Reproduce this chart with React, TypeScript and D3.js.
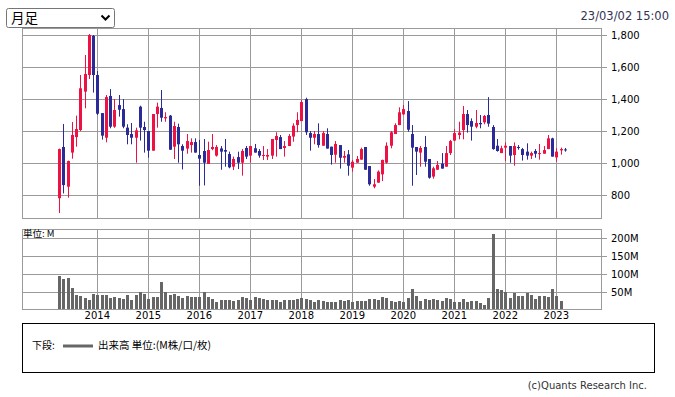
import * as d3 from 'd3'

// 月足 Apr 2013 .. Mar 2023
const START_YEAR = 2013
const START_MONTH = 3 // April, 0-based

const opens = [
  780, 1100, 852, 1065, 1162, 1206, 1446, 1550, 1794, 1550, 1312, 1158, 1419, 1227, 1362, 1337, 1221, 1181, 1158, 1352,
  1225, 1200, 1077, 1306, 1344, 1279, 1296, 1102, 1225, 1106, 1090, 1112, 1131, 1050, 1075, 994, 1087, 1046, 1091, 1081,
  1056, 977, 1037, 1002, 1094, 1046, 1092, 1075, 1046, 1040, 1046, 1144, 1162, 1094, 1106, 1165, 1237, 1262, 1400, 1187,
  1158, 1181, 1108, 1181, 1102, 1052, 1112, 1033, 1054, 971, 1002, 1021, 1100, 981, 852, 877, 929, 1002, 1108, 1181,
  1237, 1304, 1325, 1181, 1100, 1065, 1100, 1025, 915, 958, 996, 977, 1062, 1140, 1175, 1206, 1306, 1262, 1227, 1250,
  1254, 1300, 1225, 1108, 1062, 1096, 1106, 1050, 1100, 1087, 1071, 1046, 1075, 1058, 1058, 1087, 1154, 1035, 1079, 1085,
]
const highs = [
  1090, 1244, 1015, 1256, 1296, 1550, 1675, 1806, 1800, 1575, 1312, 1425, 1462, 1400, 1425, 1400, 1242, 1250, 1221, 1358,
  1258, 1200, 1306, 1377, 1456, 1317, 1300, 1258, 1246, 1117, 1181, 1154, 1154, 1144, 1150, 1133, 1181, 1112, 1106, 1150,
  1071, 1040, 1071, 1087, 1106, 1106, 1119, 1087, 1106, 1087, 1150, 1192, 1175, 1137, 1181, 1248, 1317, 1394, 1408, 1200,
  1200, 1248, 1200, 1217, 1102, 1137, 1112, 1075, 1081, 1019, 1044, 1096, 1100, 981, 900, 954, 1021, 1129, 1200, 1248,
  1348, 1362, 1387, 1237, 1100, 1106, 1169, 1025, 977, 1012, 1062, 1106, 1144, 1212, 1258, 1356, 1331, 1279, 1331, 1300,
  1300, 1412, 1237, 1150, 1108, 1129, 1106, 1129, 1112, 1094, 1123, 1071, 1087, 1119, 1106, 1175, 1158, 1092, 1096, 1094,
]
const lows = [
  687, 810, 783, 1027, 1102, 1200, 1342, 1525, 1440, 1300, 1146, 1129, 1217, 1220, 1290, 1217, 1117, 1117, 1002, 1140,
  1065, 1033, 1077, 1221, 1258, 1258, 1083, 1025, 1002, 960, 1058, 1065, 1065, 858, 860, 994, 1080, 1040, 958, 977,
  967, 956, 962, 921, 1025, 1002, 1065, 1033, 1019, 1019, 1025, 1040, 1087, 1040, 1106, 1133, 1192, 1262, 1175, 1077,
  1117, 1096, 1108, 1090, 990, 1002, 965, 1002, 921, 946, 1002, 1021, 958, 858, 842, 877, 887, 996, 1092, 1181,
  1237, 1300, 1196, 858, 925, 977, 977, 902, 902, 958, 965, 977, 1050, 1137, 1148, 1148, 1190, 1140, 1217, 1217,
  1242, 1227, 1083, 1071, 1062, 1012, 1002, 983, 1083, 1015, 1021, 1025, 1033, 1021, 1058, 1087, 1040, 1008, 1052, 1071,
]
const closes = [
  1087, 862, 1012, 1175, 1212, 1467, 1556, 1800, 1550, 1308, 1171, 1412, 1227, 1331, 1333, 1227, 1175, 1158, 1204, 1221,
  1206, 1077, 1306, 1352, 1283, 1287, 1083, 1231, 1117, 1077, 1137, 1131, 1065, 1027, 1002, 1081, 1100, 1100, 1071, 1071,
  973, 1025, 1002, 1075, 1040, 1106, 1065, 1046, 1050, 1050, 1150, 1169, 1087, 1106, 1169, 1233, 1269, 1381, 1192, 1158,
  1181, 1112, 1187, 1090, 1050, 1119, 1033, 1044, 983, 1008, 1025, 1087, 958, 867, 867, 946, 1019, 1108, 1192, 1237,
  1317, 1337, 1208, 1096, 1071, 1094, 1008, 908, 967, 988, 965, 1062, 1137, 1187, 1190, 1306, 1237, 1227, 1250, 1242,
  1294, 1246, 1087, 1075, 1092, 1108, 1046, 1106, 1096, 1050, 1046, 1062, 1058, 1062, 1081, 1154, 1040, 1071, 1087, 1079,
]
// 出来高 (M)
const volumes = [
  95, 84, 89, 60, 40, 37, 32, 26, 43, 40, 40, 40, 32, 34, 32, 29, 40, 26, 40, 49,
  43, 29, 35, 35, 78, 49, 40, 43, 37, 32, 37, 34, 34, 35, 49, 35, 29, 21, 26, 26,
  26, 24, 27, 35, 32, 26, 35, 32, 29, 26, 26, 26, 21, 26, 26, 26, 31, 32, 29, 26,
  21, 26, 24, 21, 21, 21, 26, 24, 26, 21, 24, 24, 24, 29, 29, 26, 35, 32, 24, 21,
  24, 21, 32, 58, 37, 24, 29, 26, 29, 26, 24, 32, 30, 21, 21, 29, 21, 24, 24, 18,
  14, 32, 209, 58, 55, 50, 32, 46, 37, 37, 46, 40, 29, 37, 37, 35, 58, 37, 24, 2,
]

const yearTicks = [2014, 2015, 2016, 2017, 2018, 2019, 2020, 2021, 2022, 2023]
const priceTicks = [800, 1000, 1200, 1400, 1600, 1800]
const volumeTicks = [50, 100, 150, 200]

const UP = '#ee1144'
const DOWN = '#2a2a99'
const GRID = '#9a9a9a'
const AXIS_FONT = '"DejaVu Sans", Verdana, sans-serif'
const JP_FONT = '"Noto Sans CJK JP", "DejaVu Sans", sans-serif'

export default function App() {
  // months counted from Jan 2014
  const x = d3.scaleLinear().domain([0, 108]).range([97.3, 556.3])
  const yP = d3.scaleLinear().domain([800, 1800]).range([195, 35])
  const yV = d3.scaleLinear().domain([0, 200]).range([309.7, 237.7])

  const main = { left: 22, right: 601, top: 28, bottom: 218 }
  const vol = { left: 22, right: 601, top: 229, bottom: 309 }

  const monthOf = (i: number) => (START_YEAR - 2014) * 12 + START_MONTH + i
  const fmt = d3.format(',')

  return (
    <svg
      width={675}
      height={397}
      style={{ position: 'absolute', left: 0, top: 0, background: '#fff' }}
      fontFamily={AXIS_FONT}
    >
      <defs>
        <clipPath id="mainClip">
          <rect x={main.left} y={main.top} width={main.right - main.left} height={main.bottom - main.top} />
        </clipPath>
        <clipPath id="volClip">
          <rect x={vol.left} y={vol.top} width={vol.right - vol.left} height={vol.bottom - vol.top} />
        </clipPath>
      </defs>

      {/* 足種セレクタ */}
      <rect x={6.5} y={8.5} width={108} height={19} rx={2} fill="#fff" stroke="#767676" />
      <text x={11} y={23} fontSize={13.5} fontFamily={JP_FONT} fill="#000">
        月足
      </text>
      <path d="M101.5,15.5 L105.5,19.5 L109.5,15.5" fill="none" stroke="#000" strokeWidth={2} />

      <text x={669} y={19.5} textAnchor="end" fontSize={11.5} fill="#333355">
        23/03/02 15:00
      </text>

      {/* 上段: ローソク足 */}
      <g shapeRendering="crispEdges" stroke={GRID}>
        {priceTicks.map((p) => (
          <g key={p}>
            <line x1={main.left} x2={main.right + 6} y1={Math.round(yP(p)) + 0.5} y2={Math.round(yP(p)) + 0.5} />
          </g>
        ))}
        {yearTicks.map((yr) => {
          const xx = Math.round(x((yr - 2014) * 12)) + 0.5
          return (
            <g key={yr}>
              <line x1={xx} x2={xx} y1={main.top} y2={main.bottom} />
              <line x1={xx} x2={xx} y1={vol.top} y2={vol.bottom} />
            </g>
          )
        })}
        <rect
          x={main.left + 0.5}
          y={main.top + 0.5}
          width={main.right - main.left}
          height={main.bottom - main.top}
          fill="none"
        />
      </g>
      {priceTicks.map((p) => (
        <text key={p} x={611} y={yP(p) + 4} fontSize={10} fill="#000">
          {fmt(p)}
        </text>
      ))}

      <g clipPath="url(#mainClip)">
        {opens.map((o, i) => {
          const c = closes[i]
          const cx = Math.round(x(monthOf(i)))
          const up = c >= o
          const col = up ? UP : DOWN
          const top = yP(Math.max(o, c))
          const bot = yP(Math.min(o, c))
          return (
            <g key={i}>
              <rect x={cx} y={yP(highs[i])} width={1} height={yP(lows[i]) - yP(highs[i])} fill={col} />
              <rect x={cx - 1} y={top} width={3} height={Math.max(1, bot - top)} fill={col} />
            </g>
          )
        })}
      </g>

      {/* 下段: 出来高 */}
      <g shapeRendering="crispEdges" stroke={GRID}>
        {volumeTicks.map((v) => (
          <line
            key={v}
            x1={vol.left}
            x2={vol.right + 6}
            y1={Math.round(yV(v)) + 0.5}
            y2={Math.round(yV(v)) + 0.5}
          />
        ))}
      </g>
      <g clipPath="url(#volClip)" shapeRendering="crispEdges">
        {volumes.map((v, i) => {
          const cx = Math.round(x(monthOf(i)))
          return <rect key={i} x={cx - 1} y={yV(v)} width={3} height={yV(0) - yV(v)} fill="#666" />
        })}
      </g>
      <rect
        x={vol.left + 0.5}
        y={vol.top + 0.5}
        width={vol.right - vol.left}
        height={vol.bottom - vol.top}
        fill="none"
        stroke={GRID}
        shapeRendering="crispEdges"
      />
      <text x={23} y={237} fontSize={9.5} fontFamily={JP_FONT} fill="#000">
        単位: M
      </text>
      {volumeTicks.map((v) => (
        <text key={v} x={611} y={yV(v) + 4} fontSize={10} fill="#000">
          {v}M
        </text>
      ))}
      {yearTicks.map((yr) => (
        <text key={yr} x={x((yr - 2014) * 12)} y={319} textAnchor="middle" fontSize={10} fill="#000">
          {yr}
        </text>
      ))}

      {/* 凡例 */}
      <rect x={22.5} y={323.5} width={632} height={49} fill="#fff" stroke="#000" shapeRendering="crispEdges" />
      <text x={32} y={349} fontSize={10} fontFamily={JP_FONT} fill="#000">
        下段:
      </text>
      <line x1={63} x2={93} y1={346} y2={346} stroke="#666" strokeWidth={3} />
      <text x={98} y={349} fontSize={10.5} fontFamily={JP_FONT} fill="#000">
        出来高 単位:(M株/口/枚)
      </text>

      <text x={647} y={389} textAnchor="end" fontSize={10} fill="#333">
        (c)Quants Research Inc.
      </text>
    </svg>
  )
}
